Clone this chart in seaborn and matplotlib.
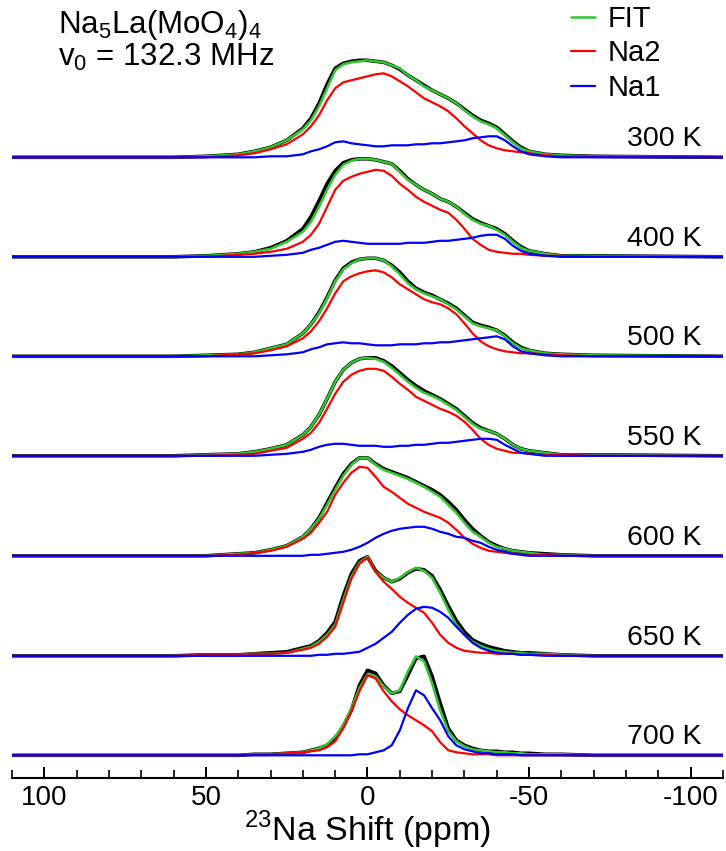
import numpy as np
import seaborn as sns
import matplotlib.pyplot as plt

# chemical shift grid (ppm), shared by every trace
ppm = [110, 60, 50, 40, 35, 30, 25, 20, 17.5, 15, 12.5, 10, 7.5, 5, 2.5, 0,
       -2.5, -5, -7.5, -10, -12.5, -15, -17.5, -20, -22.5, -25, -27.5, -30,
       -32.5, -35, -37.5, -40, -42.5, -45, -47.5, -50, -55, -60, -70, -110]

temps = ["300 K", "400 K", "500 K", "550 K", "600 K", "650 K", "700 K"]
offsets = [5.98, 4.985, 3.99, 2.995, 1.995, 0.995, 0.0]

# intensities in % of the stacking step
exp_300 = [0, 0, 1, 3, 6, 10, 17, 29, 39, 54, 73, 89, 94, 96, 97, 97, 96, 95, 92, 88, 82, 77, 72, 67, 63, 59, 54, 48, 42, 37, 34, 30, 23, 16, 10, 6, 3, 2, 1, 0]
fit_300 = [0, 0, 1, 3, 6, 10, 17, 28, 37, 51, 69, 87, 93, 95, 96, 97, 96, 95, 92, 89, 82, 77, 71, 67, 63, 59, 54, 47, 41, 36, 33, 29, 22, 15, 9, 6, 3, 2, 1, 0]
na2_300 = [0, 0, 0, 2, 4, 8, 13, 23, 31, 42, 57, 69, 75, 77, 79, 81, 83, 84, 81, 76, 71, 65, 59, 55, 51, 46, 39, 31, 24, 17, 12, 9, 7, 6, 5, 4, 2, 1, 1, 0]
na1_300 = [0, 0, 0, 0, 0, 1, 1, 3, 6, 8, 11, 15, 16, 14, 13, 12, 11, 11, 12, 12, 12, 13, 13, 14, 14, 15, 16, 17, 19, 20, 21, 21, 17, 11, 6, 3, 1, 0, 0, 0]

exp_400 = [0, 0, 1, 3, 5, 9, 16, 28, 40, 56, 73, 86, 94, 97, 98, 98, 97, 95, 93, 86, 78, 72, 67, 63, 58, 55, 50, 44, 38, 34, 31, 28, 23, 16, 10, 6, 3, 1, 1, 0]
fit_400 = [0, 0, 1, 3, 5, 8, 15, 25, 35, 50, 67, 82, 92, 96, 98, 98, 97, 95, 93, 85, 77, 72, 67, 63, 58, 55, 50, 43, 37, 33, 31, 27, 22, 15, 9, 6, 3, 1, 1, 0]
na2_400 = [0, 0, 0, 2, 3, 5, 8, 15, 22, 33, 50, 67, 76, 80, 83, 85, 87, 86, 81, 73, 67, 60, 55, 51, 47, 44, 37, 28, 18, 12, 7, 5, 4, 3, 3, 2, 1, 1, 0, 0]
na1_400 = [0, 0, 0, 0, 0, 1, 2, 4, 7, 9, 12, 15, 16, 15, 14, 13, 13, 13, 13, 13, 14, 14, 14, 15, 16, 16, 17, 18, 19, 21, 22, 22, 18, 11, 6, 3, 1, 0, 0, 0]

exp_500 = [0, 0, 1, 2, 4, 8, 12, 23, 32, 44, 59, 76, 88, 94, 97, 98, 98, 96, 91, 84, 75, 68, 64, 61, 57, 53, 48, 41, 34, 31, 29, 26, 21, 14, 9, 6, 3, 2, 1, 0]
fit_500 = [0, 0, 1, 2, 4, 8, 12, 23, 32, 43, 58, 75, 87, 93, 97, 98, 98, 96, 90, 82, 73, 67, 63, 60, 57, 52, 47, 40, 33, 30, 28, 26, 20, 13, 8, 6, 3, 2, 1, 0]
na2_500 = [0, 0, 0, 2, 3, 6, 10, 18, 25, 35, 48, 63, 75, 80, 83, 85, 86, 84, 79, 72, 67, 62, 57, 54, 52, 48, 42, 33, 23, 15, 10, 7, 5, 4, 3, 3, 2, 1, 0, 0]
na1_500 = [0, 0, 0, 0, 0, 1, 2, 4, 7, 9, 12, 13, 14, 13, 13, 12, 11, 11, 11, 12, 12, 12, 13, 13, 14, 14, 15, 16, 17, 18, 19, 20, 17, 10, 5, 3, 1, 0, 0, 0]

exp_550 = [0, 0, 1, 2, 4, 7, 11, 21, 29, 41, 57, 74, 86, 93, 97, 98, 98, 95, 90, 83, 76, 70, 65, 61, 57, 52, 47, 40, 33, 28, 25, 22, 17, 11, 7, 5, 3, 1, 1, 0]
fit_550 = [0, 0, 1, 2, 4, 7, 11, 21, 29, 41, 57, 74, 86, 93, 97, 98, 97, 94, 88, 81, 74, 68, 63, 60, 56, 51, 46, 39, 32, 27, 25, 22, 17, 11, 7, 5, 3, 1, 1, 0]
na2_550 = [0, 0, 0, 1, 2, 5, 8, 17, 23, 33, 47, 62, 74, 81, 85, 87, 87, 85, 79, 72, 66, 59, 55, 51, 47, 44, 40, 34, 26, 17, 11, 7, 5, 3, 3, 2, 1, 1, 0, 0]
na1_550 = [0, 0, 0, 0, 0, 1, 2, 4, 6, 9, 11, 12, 12, 11, 10, 10, 10, 9, 9, 10, 10, 11, 11, 12, 13, 13, 14, 15, 16, 17, 17, 16, 11, 7, 3, 2, 0, 0, 0, 0]

exp_600 = [0, 0, 0, 2, 3, 6, 10, 19, 27, 38, 53, 68, 82, 92, 98, 98, 92, 87, 84, 81, 78, 74, 70, 66, 61, 54, 46, 36, 27, 20, 14, 10, 7, 5, 4, 3, 2, 1, 0, 0]
fit_600 = [0, 0, 0, 2, 3, 6, 10, 19, 27, 37, 51, 66, 80, 91, 98, 98, 91, 86, 83, 80, 77, 73, 69, 64, 59, 51, 43, 33, 24, 19, 13, 9, 7, 5, 4, 3, 1, 1, 0, 0]
na2_600 = [0, 0, 0, 1, 3, 5, 9, 17, 23, 33, 44, 61, 73, 83, 89, 88, 79, 69, 64, 58, 52, 48, 44, 41, 38, 33, 26, 18, 12, 8, 5, 4, 3, 2, 2, 1, 1, 0, 0, 0]
na1_600 = [0, 0, 0, 0, 0, 0, 0, 0, 1, 1, 2, 3, 4, 6, 9, 13, 18, 22, 25, 27, 28, 29, 29, 27, 24, 22, 19, 18, 15, 13, 9, 6, 4, 2, 1, 0, 0, 0, 0, 0]

exp_650 = [0, 0, 1, 1, 2, 3, 4, 8, 10, 15, 23, 34, 60, 82, 95, 99, 85, 78, 74, 77, 83, 87, 86, 80, 66, 50, 35, 24, 16, 12, 9, 7, 5, 4, 3, 3, 2, 1, 0, 0]
fit_650 = [0, 0, 1, 1, 2, 2, 3, 7, 9, 14, 21, 31, 56, 79, 93, 99, 84, 78, 74, 78, 84, 88, 85, 78, 63, 46, 31, 21, 14, 10, 7, 5, 4, 3, 3, 2, 2, 1, 0, 0]
na2_650 = [0, 0, 1, 1, 2, 2, 3, 6, 8, 12, 19, 29, 53, 77, 92, 98, 84, 74, 67, 59, 53, 48, 43, 33, 21, 13, 8, 5, 4, 3, 3, 2, 2, 2, 1, 1, 1, 0, 0, 0]
na1_650 = [0, 0, 0, 0, 0, 0, 0, 0, 0, 1, 1, 2, 2, 3, 4, 8, 12, 18, 24, 33, 41, 47, 49, 48, 44, 38, 29, 21, 13, 8, 5, 3, 2, 2, 1, 1, 0, 0, 0, 0]

exp_700 = [0, 0, 0, 0, 1, 1, 2, 3, 5, 7, 10, 17, 29, 45, 70, 85, 82, 70, 62, 64, 80, 97, 99, 79, 52, 27, 15, 10, 7, 5, 4, 4, 3, 3, 2, 2, 1, 1, 0, 0]
fit_700 = [0, 0, 0, 0, 1, 1, 2, 3, 5, 7, 11, 19, 30, 47, 67, 81, 79, 69, 62, 65, 84, 99, 94, 72, 45, 24, 14, 9, 6, 5, 4, 3, 3, 2, 2, 1, 1, 1, 0, 0]
na2_700 = [0, 0, 0, 0, 1, 1, 2, 3, 4, 5, 8, 14, 27, 44, 64, 80, 77, 64, 54, 46, 40, 35, 30, 24, 13, 5, 3, 2, 1, 1, 1, 0, 0, 0, 0, 0, 0, 0, 0, 0]
na1_700 = [0, 0, 0, 0, 0, 0, 0, 0, 0, 0, 0, 0, 0, 0, 1, 1, 3, 5, 10, 25, 47, 65, 60, 47, 35, 19, 10, 6, 4, 2, 2, 1, 1, 1, 0, 0, 0, 0, 0, 0]

exp_all = [exp_300, exp_400, exp_500, exp_550, exp_600, exp_650, exp_700]
fit_all = [fit_300, fit_400, fit_500, fit_550, fit_600, fit_650, fit_700]
na2_all = [na2_300, na2_400, na2_500, na2_550, na2_600, na2_650, na2_700]
na1_all = [na1_300, na1_400, na1_500, na1_550, na1_600, na1_650, na1_700]


def main():
    sns.set_style("white")
    plt.rcParams["font.family"] = ["Liberation Sans", "DejaVu Sans"]
    plt.rcParams["mathtext.fontset"] = "custom"
    plt.rcParams["mathtext.rm"] = "Liberation Sans"
    plt.rcParams["text.color"] = "black"
    plt.rcParams["axes.labelcolor"] = "black"
    plt.rcParams["xtick.color"] = "black"

    fig = plt.figure(figsize=(7.26, 8.51), dpi=100)
    ax = fig.add_axes([12 / 726, 1 - 778 / 851, 711 / 726, 778 / 851])

    styles = [
        (exp_all, "black", 2.6, 1, None),
        (fit_all, "#2fc82f", 1.8, 2, "FIT"),
        (na2_all, "#ff0000", 1.6, 3, "Na2"),
        (na1_all, "#0000ff", 1.6, 4, "Na1"),
    ]

    for i, (temp, off) in enumerate(zip(temps, offsets)):
        for curves, color, lw, z, lab in styles:
            y = off + np.array(curves[i]) / 100.0
            sns.lineplot(x=ppm, y=y, ax=ax, color=color, linewidth=lw,
                         zorder=z, sort=False, estimator=None,
                         label=lab if i == 0 else None)
        ax.text(-103.5, off + 0.11, temp, ha="right", va="baseline", fontsize=20.5)

    ax.set_xlim(110, -110)
    ax.set_ylim(-0.227, 7.553)
    ax.set_yticks([])
    ax.set_ylabel("")
    for s in ["left", "top", "right"]:
        ax.spines[s].set_visible(False)
    ax.spines["bottom"].set_linewidth(1.5)
    ax.spines["bottom"].set_color("black")
    ax.set_xticks([100, 50, 0, -50, -100])
    ax.set_xticklabels(["100", "50", "0", "-50", "-100"])
    ax.set_xticks(np.arange(-110, 111, 10), minor=True)
    ax.tick_params(axis="x", which="both", bottom=True)
    ax.tick_params(axis="x", which="major", direction="in", length=8, width=1.4,
                   labelsize=20, pad=5)
    ax.tick_params(axis="x", which="minor", direction="in", length=5.5, width=1.2)
    ax.set_xlabel(r"$^{\mathregular{23}}$Na Shift (ppm)", fontsize=24.5, labelpad=-1.5)

    handles, labels = ax.get_legend_handles_labels()
    order = [labels.index(k) for k in ["FIT", "Na2", "Na1"]]
    ax.legend([handles[k] for k in order], [labels[k] for k in order],
              loc="upper left", bbox_to_anchor=(571 / 726, 1 - 5 / 851),
              bbox_transform=fig.transFigure, frameon=False, fontsize=21,
              borderpad=0, borderaxespad=0, handlelength=0.82,
              handletextpad=0.45, labelspacing=0.22)

    fig.text(58 / 726, 1 - 33 / 851, r"Na$_\mathregular{5}$La(MoO$_\mathregular{4}$)$_\mathregular{4}$",
             fontsize=22.5, va="baseline", ha="left")
    fig.text(58 / 726, 1 - 66 / 851, r"v$_\mathregular{0}$ = 132.3 MHz",
             fontsize=22.5, va="baseline", ha="left")

    fig.savefig("out.png", dpi=100, facecolor="white")
    plt.close(fig)


if __name__ == "__main__":
    main()
